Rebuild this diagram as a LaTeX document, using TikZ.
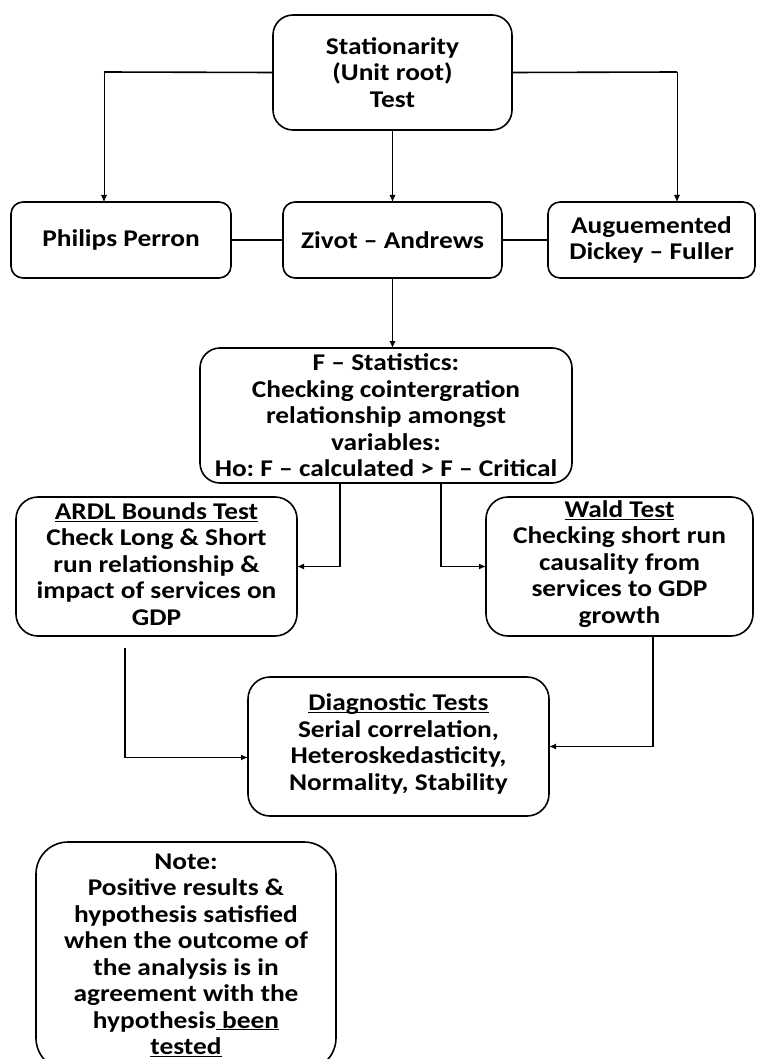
\documentclass[tikz,border=0pt]{standalone}
\usepackage{fontspec}
\setmainfont{Carlito}[FakeStretch=1.14]
\usetikzlibrary{arrows.meta}
\newcommand\myul[1]{\underline{\smash{#1}}\vphantom{g}}
\frenchspacing
\begin{document}
\begin{tikzpicture}[x=1pt,y=-1pt,
  box/.style={draw, line width=1.6pt, rounded corners=#1, inner sep=0pt, outer sep=0pt,
    align=center, font=\bfseries\fontsize{24}{26.5}\selectfont},
  box/.default=20pt,
  thickln/.style={line width=1.6pt},
  arr/.style={line width=0.8pt, -{Latex[length=7pt,width=6pt]}},
  arrthick/.style={line width=1.2pt, -{Latex[length=7pt,width=6pt]}}]
\clip (0,0) rectangle (756,1059);
\fill[white] (0,0) rectangle (756,1059);
% nodes
\node[box=20pt, minimum width=239pt, minimum height=115pt] (top) at (392.5,72.5) {Stationarity\\(Unit root)\\Test};
\node[box=12pt, minimum width=220pt, minimum height=76pt] (pp) at (121,240) {Philips Perron};
\node[box=12pt, minimum width=219pt, minimum height=76pt] (za) at (392.5,240) {Zivot – Andrews};
\node[box=12pt, minimum width=207pt, minimum height=76pt, font=\bfseries\fontsize{24}{26}\selectfont] (adf) at (651.5,240) {Auguemented\\Dickey – Fuller};
\node[box=20pt, minimum width=372pt, minimum height=135pt] (fs) at (386,415.5) {F – Statistics:\\Checking cointergration\\relationship amongst\\variables:\\Ho: F – calculated > F – Critical};
\node[box=22pt, minimum width=281pt, minimum height=139pt] (ardl) at (156.5,566.5) {\myul{ARDL Bounds Test}\\Check Long \& Short\\run relationship \&\\impact of services on\\GDP};
\node[box=22pt, minimum width=267pt, minimum height=139pt] (wald) at (619.5,566.5) {\myul{Wald Test}\\Checking short run\\causality from\\services to GDP\\growth};
\node[box=22pt, minimum width=301pt, minimum height=139pt] (diag) at (398.5,746.5) {\myul{Diagnostic Tests}\\Serial correlation,\\Heteroskedasticity,\\Normality, Stability};
\node[box=32pt, minimum width=300pt, minimum height=228pt] (note) at (186,956) {Note:\\Positive results \&\\hypothesis satisfied\\when the outcome of\\the analysis is in\\agreement with the\\hypothesis\myul{~been}\\\myul{tested}};
% connectors
\coordinate (tl) at (104,72);
\coordinate (tr) at (677,72);
\draw[thickln] (top.west) -- (tl);
\draw[thickln] (top.east) -- (tr);
\draw[arr] (tl) -- (tl |- pp.north);
\draw[arr] (tr) -- (tr |- adf.north);
\draw[arr] (top.south) -- (za.north);
\draw[thickln] (pp.east) -- (za.west);
\draw[thickln] (za.east) -- (adf.west);
\draw[arr] (za.south) -- (za.south |- fs.north);
\coordinate (f1) at (340,483);
\coordinate (f2) at (441,483);
\draw[arrthick] (f1) |- (ardl.east);
\draw[arrthick] (f2) |- (wald.west);
\coordinate (a1) at (125,648);
\coordinate (w1) at (653,636);
\draw[arrthick] (a1) |- ([yshift=-11pt]diag.west);
\draw[arrthick] (w1) |- (diag.east);
\end{tikzpicture}
\end{document}
